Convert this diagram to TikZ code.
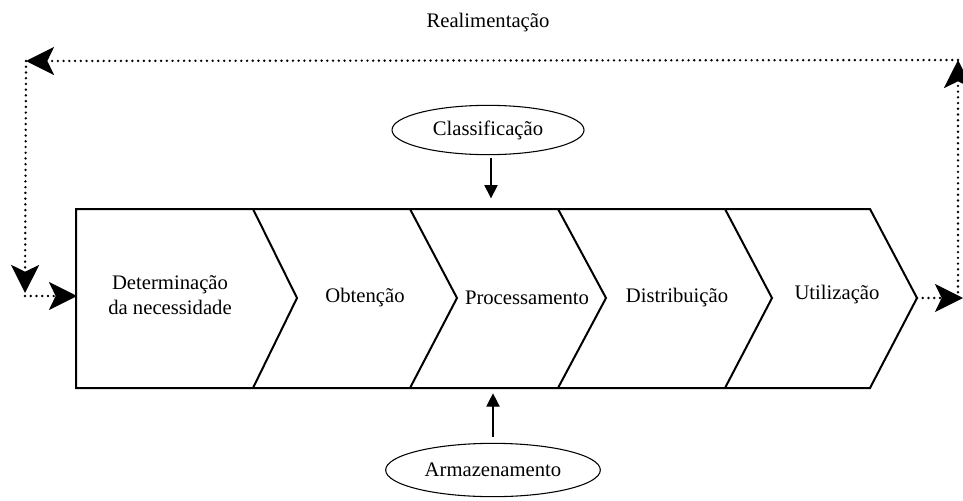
\documentclass[tikz,border=0pt]{standalone}
\usepackage{fontspec}
\setmainfont{Liberation Serif}
\usepackage{tikz}
\usetikzlibrary{arrows.meta,shapes.geometric}

\tikzset{
  etapa/.style={draw=black, line width=1.5pt, line join=miter},
  rotulo/.style={font=\fontsize{15.5}{18.8}\selectfont, align=center},
  elipse/.style={ellipse, draw=black, line width=0.8pt, inner sep=0pt, font=\fontsize{15.5}{18.8}\selectfont},
  seta/.style={line width=1pt, -{Triangle[length=10pt,width=10pt]}},
  pontilhado/.style={line width=2pt, line cap=round, dash pattern=on 0pt off 4.3pt},
  ponta/.style={-{Stealth[length=21pt,width=21pt,inset=5pt]}}
}

\begin{document}
\begin{tikzpicture}[x=0.75pt, y=-0.75pt]
                \useasboundingbox (0,0) rectangle (963,500);
                \draw[etapa] (917,298) -- (870,209) -- (76,209) -- (76,388) -- (870,388) -- cycle;
                \foreach \a/\b in {253/297, 410/457, 558/606, 725/772}
                    \draw[etapa] (\a,209) -- (\b,298) -- (\a,388);
                \node[rotulo] (det) at (170,295) {Determinação\\da necessidade};
                \node[rotulo] (obt) at (365,298) {Obtenção};
                \node[rotulo] (proc) at (527,298) {Processamento};
                \node[rotulo] (dist) at (677,298) {Distribuição};
                \node[rotulo] (util) at (837,295) {Utilização};
                \node[rotulo] (real) at (488,23) {Realimentação};
                \node[elipse, minimum width=144pt, minimum height=37pt] (clas) at (488,130) {Classificação};
                \node[elipse, minimum width=161pt, minimum height=40pt] (arm) at (493,470) {Armazenamento};
                \coordinate (topo) at (491,209);
                \coordinate (base) at (493,388);
                \draw[seta, shorten <=2pt, shorten >=8pt] (clas.south -| topo) -- (topo);
                \draw[seta, shorten <=4.5pt, shorten >=4pt] (arm.north -| base) -- (base);
                \coordinate (saida) at (917,298);
                \coordinate (fim) at (963,298);
                \coordinate (se) at (958,298);
                \coordinate (ne) at (958,60);
                \coordinate (no) at (26,61);
                \coordinate (so) at (25,293);
                \coordinate (sod) at (25,296);
                \coordinate (entrada) at (77,296);
                \draw[pontilhado, ponta] (saida) -- (fim);
                \draw[pontilhado, ponta] (se) -- (ne);
                \draw[pontilhado, ponta] (ne) -- (no);
                \draw[pontilhado, ponta] (no) -- (so);
                \draw[pontilhado, ponta] (sod) -- (entrada);
            \end{tikzpicture}
\end{document}
